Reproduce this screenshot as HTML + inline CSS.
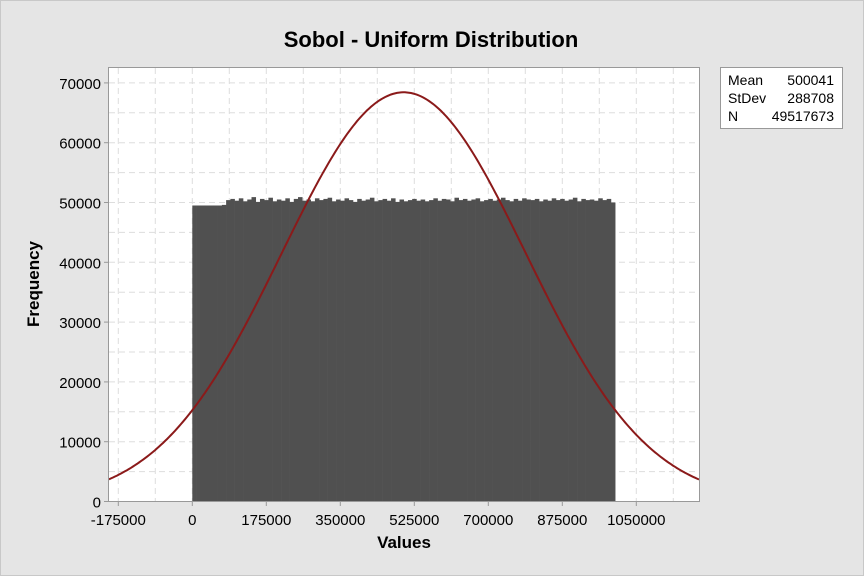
<!DOCTYPE html>
<html><head><meta charset="utf-8"><style>
body{margin:0;background:#e5e5e5;}
svg{display:block;font-family:"Liberation Sans",sans-serif;}
</style></head><body>
<svg id="chart" width="864" height="576">
<rect x="0.5" y="0.5" width="863" height="575" fill="#e5e5e5" stroke="#c8c8c8"/>
<text x="431" y="47" text-anchor="middle" font-size="22" font-weight="bold" fill="#000">Sobol - Uniform Distribution</text>
<rect x="108.5" y="67.5" width="591" height="434" fill="#fff"/>
<g id="grid"></g><g id="bars"></g><g id="curve"></g>
<rect x="108.5" y="67.5" width="591" height="434" fill="none" stroke="#999"/>
<g id="ticks"></g>
<text x="404" y="548" text-anchor="middle" font-size="17" font-weight="bold">Values</text>
<text transform="translate(39,284) rotate(-90)" text-anchor="middle" font-size="17" font-weight="bold">Frequency</text>
<g>
<rect x="720.5" y="67.5" width="122" height="61" fill="#fff" stroke="#999"/>
<text x="728" y="85" font-size="14">Mean</text><text x="834" y="85" font-size="14" text-anchor="end">500041</text>
<text x="728" y="103" font-size="14">StDev</text><text x="834" y="103" font-size="14" text-anchor="end">288708</text>
<text x="728" y="121" font-size="14">N</text><text x="834" y="121" font-size="14" text-anchor="end">49517673</text>
</g>
</svg>
<script>
const xTicks=[-175000,0,175000,350000,525000,700000,875000,1050000];
const yTicks=[0,10000,20000,30000,40000,50000,60000,70000];
const binStart=0, binWidth=10000;
const binValues=[49500,49500,49500,49500,49500,49500,49500,49600,50400,50600,50300,50700,50200,50500,50900,50100,50600,50400,50800,50200,50500,50300,50700,50100,50600,50900,50300,50500,50200,50700,50400,50600,50800,50200,50500,50300,50700,50400,50100,50600,50300,50500,50800,50200,50400,50600,50300,50700,50100,50500,50200,50400,50600,50300,50500,50200,50400,50700,50300,50600,50500,50200,50800,50400,50600,50300,50500,50700,50200,50400,50600,50300,50500,50800,50400,50200,50600,50300,50700,50500,50400,50600,50200,50500,50300,50700,50400,50600,50300,50500,50800,50200,50600,50400,50500,50300,50700,50400,50600,50000];
const statMean=500041, statSd=288708, statN=49517673, curveBin=1000;
const X0=192.3, PX=74/175000, Y0=501.5, PY=59.8/10000;
const sx=v=>X0+v*PX, sy=v=>Y0-v*PY;
const ns='http://www.w3.org/2000/svg';
function mk(t,a,p){const e=document.createElementNS(ns,t);for(const k in a)e.setAttribute(k,a[k]);p.appendChild(e);return e;}
const grid=document.getElementById('grid'),ticks=document.getElementById('ticks');
for(let v=-175000;v<=1200000;v+=87500){const x=sx(v);if(x<109||x>699)continue;
 const g=mk('line',{x1:x,x2:x,y1:68,y2:501,stroke:'#ddd','stroke-dasharray':'6 4'},grid);
 }
for(let v=5000;v<=75000;v+=5000){const y=sy(v);if(y<68)continue;
 const g=mk('line',{x1:109,x2:699,y1:y,y2:y,stroke:'#ddd','stroke-dasharray':'6 4'},grid);
 }
xTicks.forEach(v=>{const x=sx(v);mk('line',{x1:x,x2:x,y1:501.5,y2:506,stroke:'#999'},ticks);
 const t=mk('text',{x:x,y:525,'text-anchor':'middle','font-size':15},ticks);t.textContent=v;
 });
yTicks.forEach(v=>{const y=sy(v);mk('line',{x1:104,x2:108.5,y1:y,y2:y,stroke:'#999'},ticks);
 const t=mk('text',{x:101,y:y+6,'text-anchor':'end','font-size':15},ticks);t.textContent=v;
 });
const bars=document.getElementById('bars');
binValues.forEach((v,i)=>{const a=sx(binStart+i*binWidth),b=sx(binStart+(i+1)*binWidth);
 const r=mk('rect',{x:a,y:sy(v),width:b-a+0.3,height:Y0-sy(v),fill:'#505050'},bars);
 });
let d='';for(let px=109;px<=699;px+=2){const v=(px-X0)/PX;
 const f=statN*curveBin/(statSd*Math.sqrt(2*Math.PI))*Math.exp(-0.5*((v-statMean)/statSd)**2);
 d+=(d?'L':'M')+px+','+sy(f).toFixed(1);}
const c=mk('path',{d:d,fill:'none',stroke:'#8b1a1a','stroke-width':2},document.getElementById('curve'));

</script>
</body></html>
